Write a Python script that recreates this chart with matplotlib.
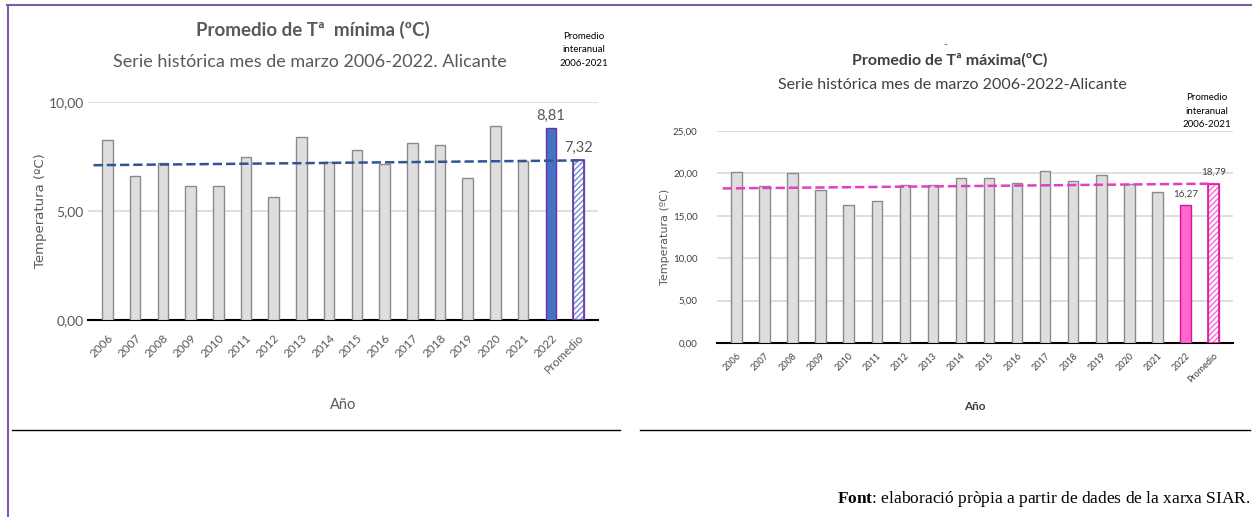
#!/usr/bin/env python

import numpy as np
import matplotlib
matplotlib.use('Agg')
import matplotlib.pyplot as plt
from matplotlib.ticker import FuncFormatter
from matplotlib.lines import Line2D

####DATA####
categorias = ['2006', '2007', '2008', '2009', '2010', '2011', '2012', '2013', '2014',
              '2015', '2016', '2017', '2018', '2019', '2020', '2021', '2022', 'Promedio']
tmin = [8.25, 6.6, 7.2, 6.15, 6.15, 7.5, 5.65, 8.4, 7.25, 7.8, 7.15, 8.1, 8.05,
        6.5, 8.9, 7.3, 8.81, 7.32]
tmax = [20.2, 18.5, 20.1, 18.0, 16.3, 16.8, 18.65, 18.65, 19.4, 19.4, 18.85, 20.3,
        19.05, 19.8, 18.7, 17.8, 16.27, 18.79]
ticks_min = [0, 5, 10]
ticks_max = [0, 5, 10, 15, 20, 25]

W, H = 1252, 517


def px(x0, y0, x1, y1):
    # pixel box -> figure fraction [left, bottom, width, height]
    return [x0 / W, 1 - y1 / H, (x1 - x0) / W, (y1 - y0) / H]


def coma(v, pos=None):
    return ('%.2f' % v).replace('.', ',')


def panel(ax, vals, ticks, col, colhatch, coledge, lincol, tick_fs, tick_col):
    x = np.arange(len(vals))
    caras = ['#dedede'] * 16 + [col, 'white']
    bordes = ['#8a8a8a'] * 16 + [coledge, coledge]
    bars = ax.bar(x, vals, width=0.38, color=caras, edgecolor=bordes, linewidth=1.0, zorder=3)
    bars[-1].set_hatch('//////')
    bars[-1].set_edgecolor(colhatch)
    # outline of promedio bar
    ax.bar(x[-1], vals[-1], width=0.38, fill=False, edgecolor=coledge, linewidth=1.2, zorder=4)
    # dashed average line
    ax.plot([-0.5, x[-1]], [vals[-1] * 0.97, vals[-1]], ls='--', color=lincol, lw=1.8, zorder=5)
    ax.set_xlim(-0.7, len(vals) - 0.3)
    ax.set_ylim(0, ticks[-1])
    ax.set_yticks(ticks)
    ax.yaxis.set_major_formatter(FuncFormatter(coma))
    ax.grid(axis='y', color='#d9d9d9', lw=1.2, zorder=0)
    for s in ['top', 'right', 'left']:
        ax.spines[s].set_visible(False)
    ax.spines['bottom'].set_color('black')
    ax.spines['bottom'].set_linewidth(1.5)
    ax.tick_params(length=0)
    ax.set_xticks(x)
    ax.set_xticklabels(categorias, rotation=45, ha='right', rotation_mode='anchor',
                       fontsize=tick_fs, color=tick_col)
    ax.set_facecolor('none')


plt.rcParams['font.family'] = ['Lato', 'DejaVu Sans']
plt.rcParams['mathtext.fontset'] = 'custom'
plt.rcParams['mathtext.bf'] = 'Liberation Serif:bold'
plt.rcParams['mathtext.rm'] = 'Liberation Serif'
fig = plt.figure(figsize=(W / 100, H / 100), dpi=100)

# page frame
fig.add_artist(Line2D([7 / W, 1], [1 - 5 / H, 1 - 5 / H], color='#7a5ca8', lw=1.5))
fig.add_artist(Line2D([8 / W, 8 / W], [0, 1 - 5 / H], color='#7a5ca8', lw=1.5))
fig.add_artist(Line2D([12 / W, 620 / W], [1 - 430 / H, 1 - 430 / H], color='black', lw=1))
fig.add_artist(Line2D([640 / W, 1250 / W], [1 - 430 / H, 1 - 430 / H], color='black', lw=1))

####LEFT: minima####
ax1 = fig.add_axes(px(88, 102, 598, 320))
panel(ax1, tmin, ticks_min, '#4472c4', '#6f8fd0', '#7030a0', '#2f5597', 8.5, '#595959')
ax1.tick_params(axis='x', pad=9)
ax1.tick_params(axis='y', labelsize=10, labelcolor='#595959', pad=3)
ax1.set_ylabel('Temperatura (ºC)', family='DejaVu Sans', fontsize=9.5, color='#595959', labelpad=1)
ax1.set_xlabel('Año', fontsize=10.5, color='#595959', labelpad=16)
ax1.text(16, tmin[16] + 0.25, coma(tmin[16]), ha='center', va='bottom', fontsize=10.5, color='#595959')
ax1.text(17, tmin[17] + 0.25, coma(tmin[17]), ha='center', va='bottom', fontsize=10.5, color='#595959')

fig.text(313 / W, 1 - 30 / H, 'Promedio de Tª  mínima (ºC)', ha='center', va='center',
         fontsize=13.5, fontweight='bold', color='#595959')
fig.text(310 / W, 1 - 62 / H, 'Serie histórica mes de marzo 2006-2022. Alicante', ha='center',
         va='center', fontsize=13, color='#595959')
fig.text(584 / W, 1 - 50 / H, 'Promedio\ninteranual\n2006-2021', ha='center', va='center',
         fontsize=7, color='black', linespacing=1.6)

####RIGHT: maxima####
ax2 = fig.add_axes(px(717, 131, 1233, 343))
panel(ax2, tmax, ticks_max, '#ff66cc', '#ff66cc', '#d4179a', '#e040c0', 6.5, '#404040')
ax2.tick_params(axis='x', pad=6)
ax2.tick_params(axis='y', labelsize=7, labelcolor='#404040', pad=14)
ax2.set_ylabel('Temperatura (ºC)', family='DejaVu Sans', fontsize=8, color='#595959', labelpad=2)
ax2.set_xlabel('Año', fontsize=8.5, fontweight='bold', color='#404040', labelpad=12)
ax2.text(16, tmax[16] + 0.8, coma(tmax[16]), ha='center', va='bottom', fontsize=7, color='#404040')
ax2.text(17, tmax[17] + 0.8, coma(tmax[17]), ha='center', va='bottom', fontsize=7, color='#404040')

fig.text(945 / W, 1 - 45 / H, '-', ha='center', va='center', fontsize=8, color='#595959')
fig.text(950 / W, 1 - 60 / H, 'Promedio de Tª máxima(ºC)', ha='center', va='center',
         fontsize=11.5, fontweight='bold', color='#404040')
fig.text(952 / W, 1 - 85 / H, 'Serie histórica mes de marzo 2006-2022-Alicante', ha='center',
         va='center', fontsize=11.5, color='#404040')
fig.text(1207 / W, 1 - 111 / H, 'Promedio\ninteranual\n2006-2021', ha='center', va='center',
         fontsize=7, color='black', linespacing=1.6)

####FOOTER####
fig.text(1250 / W, 1 - 499 / H, r'$\mathbf{Font}$: elaboració pròpia a partir de dades de la xarxa SIAR.',
         ha='right', va='center', fontsize=12.5, family='Liberation Serif')

fig.savefig('out.png', dpi=100)
